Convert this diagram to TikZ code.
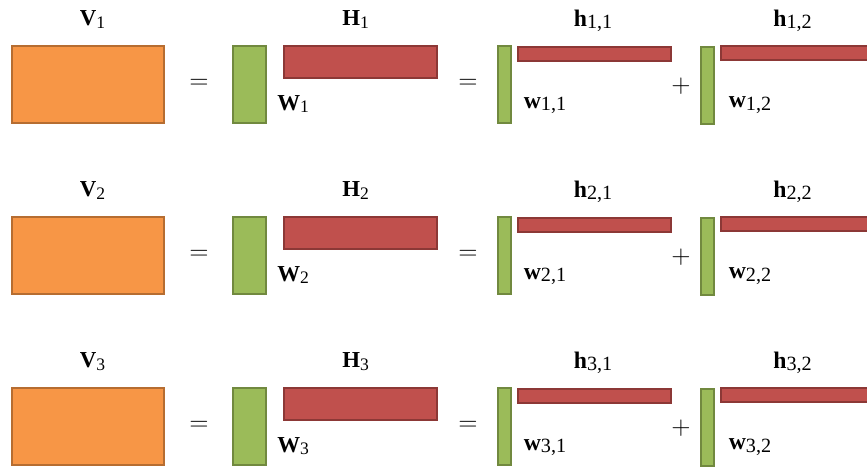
\documentclass[tikz,border=0pt]{standalone}
\usepackage{fontspec}
\setmainfont{Liberation Serif}
\definecolor{vfill}{HTML}{F79646}
\definecolor{vline}{HTML}{B66D31}
\definecolor{wfill}{HTML}{9BBB59}
\definecolor{wline}{HTML}{71893F}
\definecolor{hfill}{HTML}{C0504D}
\definecolor{hline}{HTML}{8C3836}
\newcommand{\capsub}[2]{{\fontsize{13}{15}\selectfont\bfseries #1}\raisebox{-1.6pt}{\fontsize{10}{12}\selectfont #2}}
\newcommand{\lowsub}[2]{{\fontsize{13.5}{16}\selectfont\bfseries #1}\raisebox{-1.6pt}{\fontsize{11.5}{13}\selectfont #2}}

\begin{document}
\begin{tikzpicture}[x=0.02cm,y=-0.02cm]
\tikzset{lbl/.style={text=black,anchor=base west,inner sep=0pt},
  sym/.style={text=black,font=\fontsize{15}{18}\selectfont,inner sep=0pt},
  vbox/.style={draw=vline,fill=vfill,line width=0.8pt},
  wbox/.style={draw=wline,fill=wfill,line width=0.8pt},
  hbox/.style={draw=hline,fill=hfill,line width=0.8pt}}
\useasboundingbox (0,0) rectangle (867,468);

\foreach \r in {1,2,3} {
\begin{scope}[shift={(0,{(\r-1)*171})}]
% matrices of row \r:
\draw[vbox] (12,46) rectangle (164,123);
\draw[wbox] (233,46) rectangle (266,123);
\draw[hbox] (284,46) rectangle (437,78);
\draw[wbox] (498,46) rectangle (511,123);
\draw[hbox] (518,47) rectangle (671,61);
\draw[wbox] (701,47) rectangle (714,124);
\draw[hbox] (721,46) rectangle (880,60);
% labels:
\path (79.5,25.5) node[lbl] (V\r) {\capsub{V}{\r}};
\path (342,25.5) node[lbl] (H\r) {\capsub{H}{\r}};
\path (277,110) node[lbl] (W\r) {\capsub{W}{\r}};
\path (573.5,26) node[lbl] (h\r-1) {\lowsub{h}{\r,1}};
\path (773,26) node[lbl] (h\r-2) {\lowsub{h}{\r,2}};
\path (523.5,108) node[lbl] (w\r-1) {\lowsub{w}{\r,1}};
\path (728.5,107.5) node[lbl] (w\r-2) {\lowsub{w}{\r,2}};
\path (199,84) node[sym] (eqa\r) {$=$};
\path (468,84) node[sym] (eqb\r) {$=$};
\path (681,86) node[sym] (plus\r) {$+$};
\end{scope}
}

\end{tikzpicture}
\end{document}
